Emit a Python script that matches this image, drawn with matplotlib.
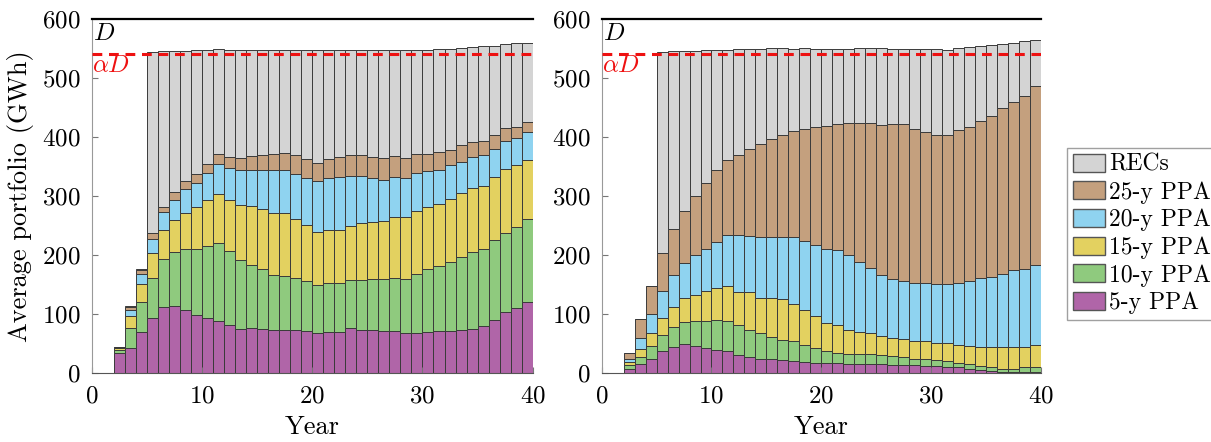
import numpy as np
import matplotlib
matplotlib.use('Agg')
import matplotlib.pyplot as plt
from matplotlib.patches import Patch

plt.rcParams['font.family'] = ['cmr10', 'DejaVu Serif']
plt.rcParams['mathtext.fontset'] = 'cm'
plt.rcParams['axes.formatter.use_mathtext'] = True

# year index of each bar (bar spans [y, y+1])
years = np.arange(2, 40)

# left panel segment heights (GWh)
left_5y = [35, 43, 70, 94, 112, 114, 107, 98, 93, 88, 81, 75, 77, 75, 73, 74, 74, 72, 69,
           70, 70, 76, 74, 74, 72, 72, 68, 69, 70, 72, 72, 73, 75, 80, 90, 104, 110, 121]
left_10y = [5, 34, 51, 67, 81, 91, 103, 113, 123, 133, 126, 117, 106, 101, 93, 91, 88, 85, 80,
            83, 83, 82, 84, 85, 87, 90, 91, 99, 106, 110, 117, 124, 131, 131, 135, 134, 138, 141]
left_15y = [3, 20, 31, 42, 49, 54, 62, 70, 77, 83, 87, 93, 100, 103, 106, 107, 99, 94, 91,
            89, 89, 91, 96, 97, 99, 102, 105, 107, 106, 105, 106, 109, 108, 107, 107, 108, 105, 100]
left_20y = [1, 10, 17, 25, 31, 35, 40, 42, 46, 50, 54, 59, 61, 66, 73, 73, 77, 80, 86,
            89, 90, 85, 80, 74, 70, 68, 67, 64, 61, 58, 57, 52, 52, 51, 48, 48, 45, 46]
left_25y = [1, 6, 6, 10, 9, 13, 13, 15, 16, 18, 18, 21, 24, 25, 27, 28, 31, 32, 31,
            32, 34, 35, 35, 36, 37, 36, 34, 32, 29, 29, 27, 28, 26, 24, 24, 21, 19, 18]
left_rec = [0, 1, 1, 306, 263, 238, 221, 209, 192, 177, 182, 183, 180, 178, 176, 175, 179, 185, 191,
            185, 182, 179, 179, 182, 183, 180, 183, 177, 176, 175, 171, 165, 160, 161, 151, 142, 142, 134]

# right panel segment heights (GWh)
right_5y = [8, 15, 25, 37, 45, 50, 47, 43, 39, 37, 31, 28, 25, 24, 23, 21, 20, 18, 17,
            17, 16, 16, 16, 16, 14, 14, 14, 13, 12, 11, 10, 7, 6, 4, 3, 3, 3, 3]
right_10y = [6, 13, 21, 28, 33, 37, 41, 46, 51, 52, 51, 46, 44, 37, 33, 33, 28, 25, 21,
             18, 17, 16, 16, 15, 15, 13, 11, 11, 11, 10, 8, 8, 7, 6, 5, 5, 7, 7]
right_15y = [5, 14, 23, 28, 35, 40, 44, 50, 55, 59, 56, 63, 59, 66, 69, 64, 59, 54, 48,
             46, 41, 38, 36, 33, 31, 31, 30, 30, 29, 30, 30, 32, 32, 34, 36, 37, 35, 38]
right_20y = [6, 18, 31, 46, 53, 60, 68, 71, 78, 86, 96, 96, 103, 104, 106, 113, 117, 121, 125,
             127, 126, 119, 111, 102, 99, 98, 98, 99, 99, 100, 105, 109, 116, 119, 124, 130, 132, 136]
right_25y = [9, 32, 48, 64, 78, 88, 101, 112, 122, 128, 136, 147, 158, 165, 173, 180, 190, 199, 208,
             215, 224, 235, 245, 255, 264, 267, 261, 255, 252, 253, 259, 261, 267, 272, 282, 285, 292, 303]
right_rec = [0, 0, 0, 341, 301, 271, 245, 225, 202, 186, 179, 169, 161, 155, 147, 139, 137, 133, 130,
             127, 126, 127, 127, 130, 127, 127, 136, 142, 147, 144, 139, 135, 126, 121, 108, 99, 93, 78]

labels = ['5-y PPA', '10-y PPA', '15-y PPA', '20-y PPA', '25-y PPA', 'RECs']
colors = ['#b065a8', '#8fca7e', '#e3d160', '#8fd3f0', '#c4a07e', '#d4d4d4']

D = 600
alphaD = 540

fig = plt.figure(figsize=(12.11, 4.42), dpi=100)
ax1 = fig.add_axes([0.0757, 0.1554, 0.3642, 0.8016])
ax2 = fig.add_axes([0.4969, 0.1554, 0.3625, 0.8016])


def draw(ax, series):
    bottom = np.zeros(len(years))
    for vals, c in zip(series, colors):
        vals = np.array(vals, dtype=float)
        ax.bar(years + 0.5, vals, width=1.0, bottom=bottom, color=c,
               edgecolor='#3a3a3a', linewidth=0.7)
        bottom += vals
    ax.plot([0, 40], [D, D], color='black', lw=1.6, clip_on=False, zorder=5)
    ax.plot([0, 40], [alphaD, alphaD], color='#ee1111', lw=2.2, ls=(0, (3.2, 2.2)), zorder=6)
    ax.text(0.1, D - 7, '$D$', color='black', fontsize=18, va='top', ha='left')
    ax.text(0.0, alphaD - 1, r'$\alpha D$', color='#ee1111', fontsize=18, va='top', ha='left')
    ax.set_xlim(0, 40)
    ax.set_ylim(0, 600)
    ax.set_xticks([0, 10, 20, 30, 40])
    ax.set_yticks(np.arange(0, 601, 100))
    ax.tick_params(direction='in', length=4, labelsize=18, color='#777777')
    ax.tick_params(axis='x', pad=9)
    ax.tick_params(axis='y', pad=8)
    for s in ['top', 'right']:
        ax.spines[s].set_visible(False)
    ax.spines['left'].set_color('#999999')
    ax.spines['bottom'].set_color('#555555')
    ax.set_xlabel('Year', fontsize=19, labelpad=5)


draw(ax1, [left_5y, left_10y, left_15y, left_20y, left_25y, left_rec])
draw(ax2, [right_5y, right_10y, right_15y, right_20y, right_25y, right_rec])
ax1.set_ylabel('Average portfolio (GWh)', fontsize=19, labelpad=6)

handles = [Patch(facecolor=c, edgecolor='#555555', lw=1.0) for c in colors]
leg = fig.legend(handles[::-1], labels[::-1], loc='center left',
                 bbox_to_anchor=(0.881, 0.4706), fontsize=17, frameon=True,
                 fancybox=False, edgecolor='#888888', handlelength=1.35,
                 handleheight=0.8, handletextpad=0.2, labelspacing=0.22,
                 borderpad=0.25, borderaxespad=0.0)
leg.get_frame().set_linewidth(1.0)

fig.savefig('out.png', dpi=100)
